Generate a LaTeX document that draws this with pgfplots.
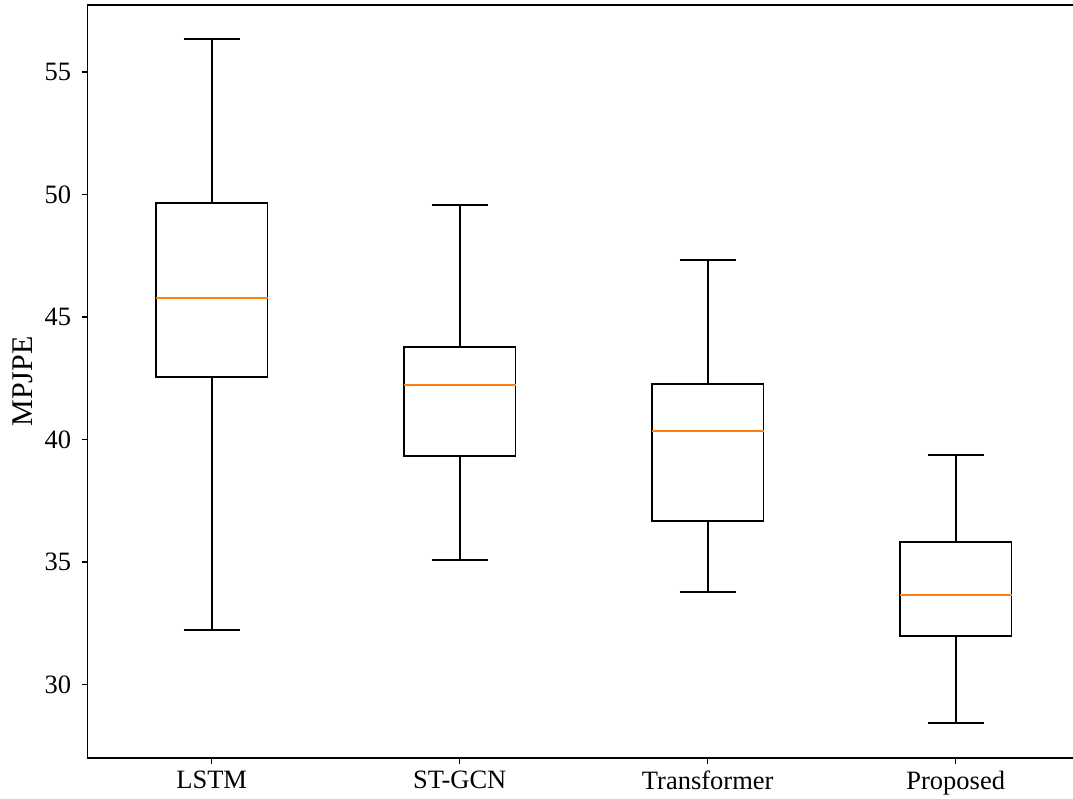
\documentclass[border=0pt]{standalone}
\usepackage{fontspec}
\setmainfont{Liberation Serif}
\usepackage{pgfplots}
\pgfplotsset{compat=1.18}
\definecolor{mplorange}{HTML}{FF7F0E}
\begin{document}
\begin{tikzpicture}
\begin{axis}[name=ax, scale only axis, width=992pt, height=752.7pt,
 xmin=0.5, xmax=4.5, ymin=27.02, ymax=57.735,
 xtick={1,2,3,4}, xticklabels={LSTM,ST-GCN,Transformer,Proposed},
 ytick={30,35,40,45,50,55},
 tick align=outside, tick pos=left, major tick length=6pt,
 every tick/.style={black, line width=1.5pt},
 axis line style={line width=1.6pt},
 ticklabel style={font=\fontsize{26.5}{30}\selectfont},
 xticklabel style={yshift=-4pt},
 yticklabel style={xshift=-7pt},
 /pgf/number format/assume math mode=true,
 ylabel={MPJPE}, ylabel style={font=\fontsize{30}{34}\selectfont, yshift=5pt},
 unbounded coords=jump,
]
% boxes: (x-0.225,q1) to (x+0.225,q3)
\addplot[black, line width=1.9pt, line join=miter, mark=none] coordinates {(0.775,42.56) (1.225,42.56) (1.225,49.66) (0.775,49.66)} -- cycle;
\addplot[black, line width=1.9pt, line join=miter, mark=none] coordinates {(1.775,39.34) (2.225,39.34) (2.225,43.78) (1.775,43.78)} -- cycle;
\addplot[black, line width=1.9pt, line join=miter, mark=none] coordinates {(2.775,36.69) (3.225,36.69) (3.225,42.28) (2.775,42.28)} -- cycle;
\addplot[black, line width=1.9pt, line join=miter, mark=none] coordinates {(3.775,32.00) (4.225,32.00) (4.225,35.83) (3.775,35.83)} -- cycle;
% whiskers and caps
\addplot[black, line width=1.9pt, mark=none] coordinates {
 (1,49.66) (1,56.35) (nan,nan) (0.8875,56.35) (1.1125,56.35) (nan,nan)
 (1,42.56) (1,32.24) (nan,nan) (0.8875,32.24) (1.1125,32.24) (nan,nan)
 (2,43.78) (2,49.58) (nan,nan) (1.8875,49.58) (2.1125,49.58) (nan,nan)
 (2,39.34) (2,35.10) (nan,nan) (1.8875,35.10) (2.1125,35.10) (nan,nan)
 (3,42.28) (3,47.33) (nan,nan) (2.8875,47.33) (3.1125,47.33) (nan,nan)
 (3,36.69) (3,33.79) (nan,nan) (2.8875,33.79) (3.1125,33.79) (nan,nan)
 (4,35.83) (4,39.38) (nan,nan) (3.8875,39.38) (4.1125,39.38) (nan,nan)
 (4,32.00) (4,28.45) (nan,nan) (3.8875,28.45) (4.1125,28.45)
};
% medians
\addplot[mplorange, line width=1.9pt, mark=none] coordinates {
 (0.775,45.78) (1.225,45.78) (nan,nan)
 (1.775,42.23) (2.225,42.23) (nan,nan)
 (2.775,40.36) (3.225,40.36) (nan,nan)
 (3.775,33.67) (4.225,33.67)
};
\end{axis}
\pgfresetboundingbox
\path[use as bounding box] ([xshift=-87.7pt,yshift=-40.3pt]ax.south west) rectangle ([xshift=-6.7pt,yshift=5pt]ax.north east);
\end{tikzpicture}
\end{document}
